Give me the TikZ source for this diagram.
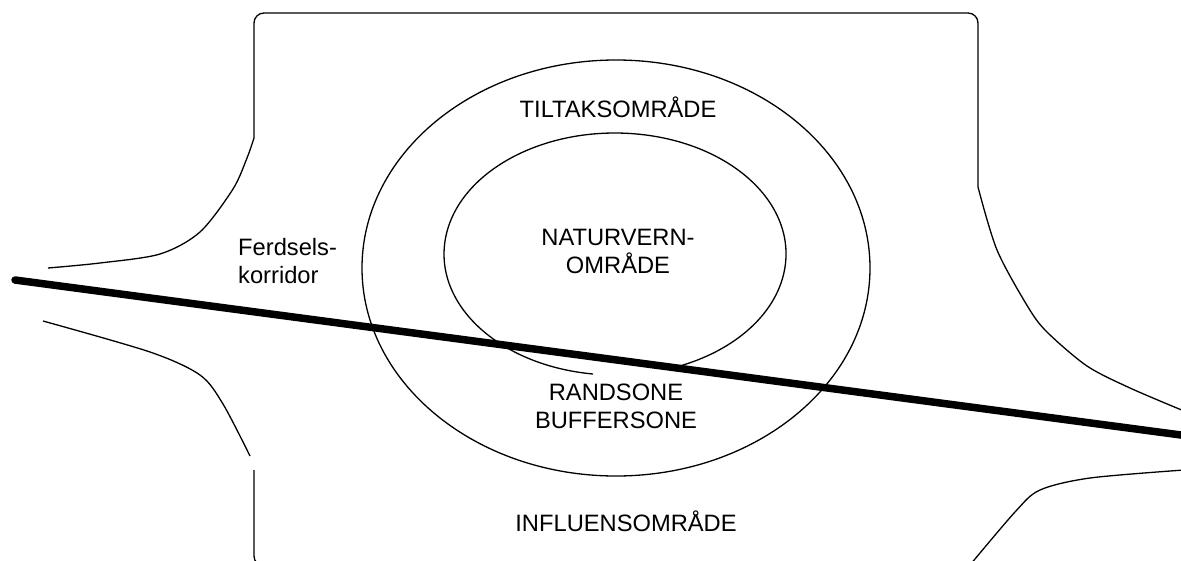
\documentclass[tikz,border=0pt]{standalone}
\usepackage{fontspec}
\setmainfont{Liberation Sans}
\begin{document}
\begin{tikzpicture}[x=1pt,y=-1pt,
  zone/.style={line width=1.3pt},
  road/.style={line width=7.5pt,line cap=round},
  lbl/.style={font=\fontsize{23.7}{28.5}\selectfont,inner sep=0pt,align=center}]
\useasboundingbox (0,0) rectangle (1181,560);
\clip (0,0) rectangle (1181,560);
% area outline
\draw[zone,rounded corners=10pt] (254,138) -- (254,13) -- (978,13) -- (978,187);
\draw[zone,rounded corners=10pt] (254,470) -- (254,566) -- (300,566);
% corridor edges
\draw[zone] plot[smooth] coordinates {(254,138) (247,158) (233,189) (200,232) (160,254) (100,263) (48,268)};
\draw[zone] plot[smooth] coordinates {(43,321) (150,352) (200,375) (223,404) (250,456)};
\draw[zone] plot[smooth] coordinates {(978,187) (997,250) (1028,307) (1047,332) (1087,366) (1130,388) (1184,411)};
\draw[zone] plot[smooth] coordinates {(1184,470) (1090,478) (1040,490) (1015,512) (970,565)};
% zones
\draw[zone] (616,268) ellipse [x radius=254, y radius=208];
\draw[zone] (593,374) arc[start angle=97.4, end angle=431.2, x radius=171, y radius=121];
% labels
\node[lbl,anchor=base] (tiltak) at (618,117) {TILTAKSOMRÅDE};
\node[lbl] (naturvern) at (618,251.5) {NATURVERN-\\OMRÅDE};
\node[lbl] (randsone) at (616,406.5) {RANDSONE\\BUFFERSONE};
\node[lbl,anchor=base] (influens) at (626,531) {INFLUENSOMRÅDE};
\node[lbl,align=left,anchor=west] (ferdsel) at (238,261) {Ferdsels-\\korridor};
% road
\coordinate (roadW) at (15,280);
\coordinate (roadE) at (1190,436.2);
\draw[road] (roadW) -- (roadE);
\end{tikzpicture}
\end{document}
